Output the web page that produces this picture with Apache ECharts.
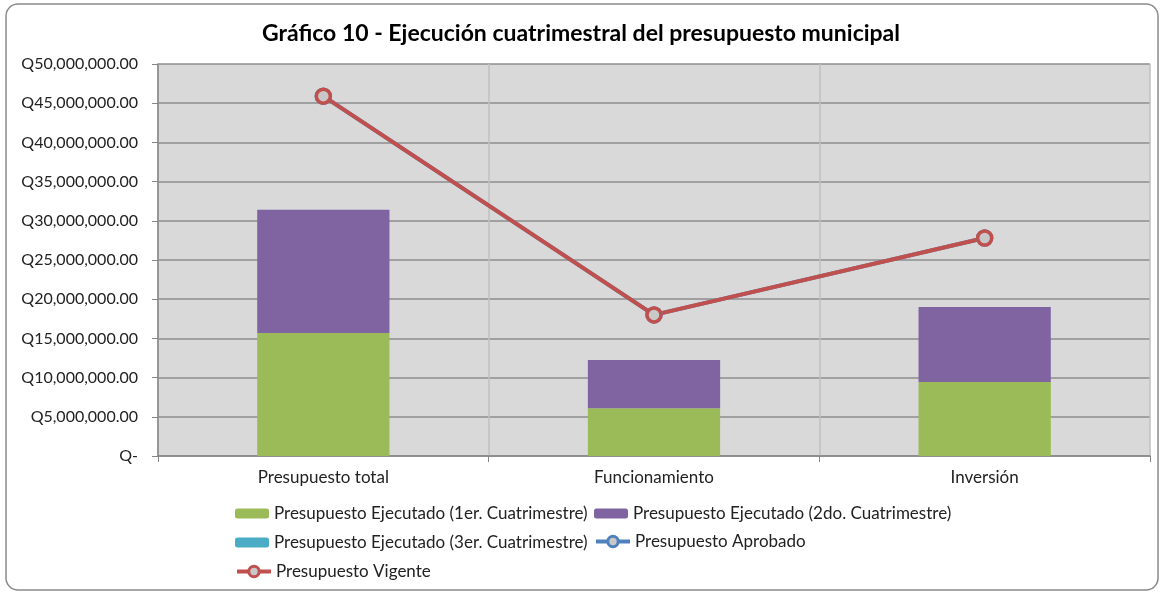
<!DOCTYPE html>
<html lang="es">
<head>
    <meta charset="UTF-8">
    <title>Gráfico 10</title>
    <style>
        html, body { margin: 0; padding: 0; background: #fff; }
    </style>
</head>
<body>
<div id="main" style="width: 1162px;height:594px;"></div>

<script src="https://cdn.jsdelivr.net/npm/echarts@6/dist/echarts.min.js"></script>

<script type="text/javascript">
    // datos
    var categorias = ['Presupuesto total', 'Funcionamiento', 'Inversión'];
    var ejecutado1 = [15700000, 6100000, 9450000];
    var ejecutado2 = [15700000, 6150000, 9550000];
    var ejecutado3 = [0, 0, 0];
    var aprobado = [45900000, 18000000, 27800000];
    var vigente = [45900000, 18000000, 27800000];
    var yTicks = [0, 5000000, 10000000, 15000000, 20000000, 25000000, 30000000, 35000000, 40000000, 45000000, 50000000];

    var fuente = 'Lato, "Noto Sans", sans-serif';

    function formatoQ(v) {
        if (v === 0) return 'Q-';
        return 'Q' + v.toLocaleString('en-US', {minimumFractionDigits: 2, maximumFractionDigits: 2});
    }

    var myChart = echarts.init(document.getElementById('main'));

    var marcador = function (color) {
        return {
            type: 'line',
            symbol: 'circle',
            symbolSize: 14,
            lineStyle: {color: color, width: 4},
            itemStyle: {color: '#c8c8c8', borderColor: color, borderWidth: 3.5},
            z: 5
        };
    };

    var lineaAprobado = marcador('#4F81BD');
    lineaAprobado.name = 'Presupuesto Aprobado';
    lineaAprobado.data = aprobado;
    var lineaVigente = marcador('#C0504D');
    lineaVigente.name = 'Presupuesto Vigente';
    lineaVigente.data = vigente;

    // una leyenda por elemento para colocar las columnas como en el original
    function leyenda(nombre, left, top, esLinea) {
        var l = {
            left: left,
            top: top,
            itemWidth: 34,
            itemHeight: 10,
            padding: 0,
            textStyle: {fontFamily: fuente, fontSize: 17, color: '#222'},
            data: [nombre]
        };
        if (esLinea) {
            l.itemHeight = 13;
            l.lineStyle = {width: 4};
            l.itemStyle = {borderWidth: 3};
        }
        return l;
    }

    var option = {
        animation: false,
        title: {
            text: 'Gráfico 10 - Ejecución cuatrimestral del presupuesto municipal',
            left: 'center',
            top: 17,
            textStyle: {fontFamily: fuente, fontSize: 23, fontWeight: 'bold', color: '#000'}
        },
        graphic: [{
            type: 'rect',
            shape: {x: 6, y: 4, width: 1152, height: 586, r: 12},
            style: {fill: 'none', stroke: '#8a8a8a', lineWidth: 1.5},
            silent: true
        }],
        legend: [
            leyenda('Presupuesto Ejecutado (1er. Cuatrimestre)', 235, 505),
            leyenda('Presupuesto Ejecutado (2do. Cuatrimestre)', 594, 505),
            leyenda('Presupuesto Ejecutado (3er. Cuatrimestre)', 235, 534),
            leyenda('Presupuesto Aprobado', 594, 533, true),
            leyenda('Presupuesto Vigente', 235, 563, true)
        ],
        grid: {
            left: 158,
            right: 12,
            top: 64,
            bottom: 138,
            show: true,
            backgroundColor: '#D9D9D9',
            borderWidth: 0
        },
        xAxis: {
            type: 'category',
            data: categorias,
            axisLine: {lineStyle: {color: '#868686', width: 1.5}},
            axisTick: {show: true, length: 6, lineStyle: {color: '#868686'}},
            axisLabel: {fontFamily: fuente, fontSize: 17, color: '#222', margin: 13},
            splitLine: {show: true, lineStyle: {color: '#BFBFBF', width: 1.5}}
        },
        yAxis: {
            type: 'value',
            min: yTicks[0],
            max: yTicks[yTicks.length - 1],
            interval: yTicks[1] - yTicks[0],
            axisLine: {show: true, lineStyle: {color: '#868686', width: 1.5}},
            axisTick: {show: true, length: 6, lineStyle: {color: '#868686'}},
            axisLabel: {fontFamily: fuente, fontSize: 16, color: '#222', margin: 20, formatter: formatoQ},
            splitLine: {lineStyle: {color: '#8C8C8C', width: 1.5}}
        },
        series: [
            {
                name: 'Presupuesto Ejecutado (1er. Cuatrimestre)',
                type: 'bar',
                stack: 'ejecutado',
                barWidth: '40%',
                itemStyle: {color: '#9BBB59'},
                data: ejecutado1
            },
            {
                name: 'Presupuesto Ejecutado (2do. Cuatrimestre)',
                type: 'bar',
                stack: 'ejecutado',
                itemStyle: {color: '#8064A2'},
                data: ejecutado2
            },
            {
                name: 'Presupuesto Ejecutado (3er. Cuatrimestre)',
                type: 'bar',
                stack: 'ejecutado',
                itemStyle: {color: '#4BACC6'},
                data: ejecutado3
            },
            lineaAprobado,
            lineaVigente
        ]
    };

    myChart.setOption(option);
</script>
</body>
</html>
